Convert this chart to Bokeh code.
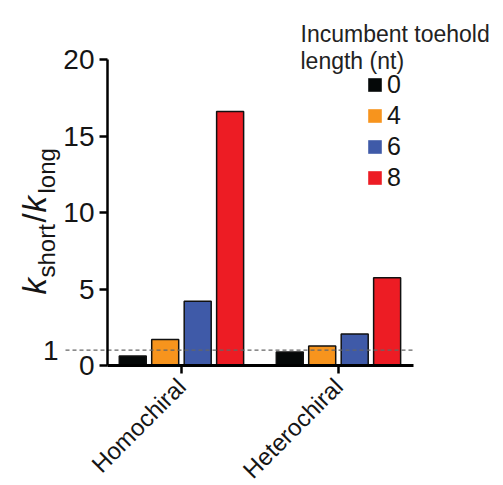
import math
from bokeh.plotting import figure
from bokeh.models import Range1d, FixedTicker, Label, Legend, LegendItem
from bokeh.embed import file_html
from bokeh.resources import INLINE

# ---- data ----
groups = ["Homochiral", "Heterochiral"]
toeholds = ["0", "4", "6", "8"]
colors = ["#050808", "#F7941D", "#3F5AA8", "#ED1C24"]
vals_0 = [0.62, 0.88]
vals_4 = [1.70, 1.28]
vals_6 = [4.20, 2.06]
vals_8 = [16.6, 5.73]
series = [vals_0, vals_4, vals_6, vals_8]
y_ticks = [0, 5, 10, 15, 20]
ref_value = 1
legend_title = ["Incumbent toehold", "length (nt)"]

FONT = "Liberation Sans"
W, H = 500, 485

# ---- layout: the frame covers the whole canvas, axes sit at fixed locations ----
x_lo, x_hi = 0.529, 2.478          # x extent of the drawn axis (data)
y_lo, y_hi = 0, 20                 # y extent of the drawn axis (data)
px_l, px_r, py_t, py_b = 107, 413, 59, 365   # where those land on the canvas
sx = (px_r - px_l) / (x_hi - x_lo)
sy = (py_b - py_t) / (y_hi - y_lo)
x_start = x_lo - px_l / sx
y_start = y_lo - (H - py_b) / sy

p = figure(width=W, height=H,
           x_range=Range1d(x_start, x_start + W / sx),
           y_range=Range1d(y_start, y_start + H / sy),
           output_backend="svg", toolbar_location=None, min_border=0)
p.xgrid.visible = False
p.ygrid.visible = False
p.outline_line_color = None
p.background_fill_color = "white"
p.border_fill_color = "white"

offsets = [-0.31, -0.1035, 0.1035, 0.31]
bar_w = 0.172
centers = [i + 1 for i in range(len(groups))]

items = []
for k, (name, vals, col) in enumerate(zip(toeholds, series, colors)):
    xs = [c + offsets[k] for c in centers]
    r = p.vbar(x=xs, top=vals, bottom=0, width=bar_w, fill_color=col, line_color=None)
    p.vbar(x=xs, top=vals, bottom=0, width=bar_w, fill_color=None,
           line_color="#111111", line_width=1.5)
    items.append(LegendItem(label=name, renderers=[r]))

# reference dashed line at 1 (extends left of the y axis)
p.segment(x0=[x_start + 65 / sx], y0=[ref_value], x1=[x_hi], y1=[ref_value],
          line_color="#666666", line_width=1.2, line_dash="4 3")
p.add_layout(Label(x=58, y=ref_value, x_units="screen", y_units="data", text=str(ref_value),
                   text_align="right", text_baseline="middle",
                   text_font=FONT, text_font_size="28px", text_color="#151515"))

# axes
ya = p.yaxis[0]
ya.fixed_location = x_lo
ya.bounds = (y_lo, y_hi)
ya.ticker = FixedTicker(ticks=y_ticks)
ya.minor_tick_line_color = None
ya.major_tick_in = 0
ya.major_tick_out = 8
ya.axis_line_width = 2.5
ya.major_tick_line_width = 2.5
ya.major_label_text_font = FONT
ya.major_label_text_font_size = "28px"
ya.major_label_text_color = "#151515"
ya.major_label_standoff = 5

xa = p.xaxis[0]
xa.fixed_location = y_lo
xa.bounds = (x_lo, x_hi)
xa.ticker = FixedTicker(ticks=centers)
xa.major_label_overrides = {c: g for c, g in zip(centers, groups)}
xa.minor_tick_line_color = None
xa.major_tick_in = 0
xa.major_tick_out = 8
xa.axis_line_width = 3
xa.major_tick_line_width = 2.5
xa.major_label_orientation = math.pi / 4
xa.major_label_text_font = FONT
xa.major_label_text_font_size = "24px"
xa.major_label_text_color = "#151515"
xa.major_label_standoff = 9

# legend
leg = Legend(items=items, location=(366, H - 192), glyph_width=17, glyph_height=17,
             label_text_font=FONT, label_text_font_size="25px", label_text_color="#151515",
             spacing=2, padding=0, margin=0, border_line_color=None,
             background_fill_alpha=0, label_standoff=4)
p.add_layout(leg)

for i, (line, base) in enumerate(zip(legend_title, [33, 60])):
    p.add_layout(Label(x=300, y=H - base, x_units="screen", y_units="screen", text=line,
                       text_align="left", text_baseline="alphabetic",
                       text_font=FONT, text_font_size="23px", text_color="#222222"))

# y-axis label: k_short / k_long  (page coordinates: baseline x, start y)
ylab = [("k", 34, 294, "33px", "italic"),
        ("short", 46, 277, "24px", "normal"),
        ("/", 34, 222, "33px", "normal"),
        ("k", 34, 212, "33px", "italic"),
        ("long", 46, 193, "24px", "normal")]
for txt, bx, by, fs, style in ylab:
    p.add_layout(Label(x=bx, y=H - by, x_units="screen", y_units="screen", text=txt,
                       angle=math.pi / 2, text_align="left", text_baseline="alphabetic",
                       text_font=FONT, text_font_size=fs, text_font_style=style,
                       text_color="#151515"))

open("out.html", "w").write(file_html(p, INLINE))
